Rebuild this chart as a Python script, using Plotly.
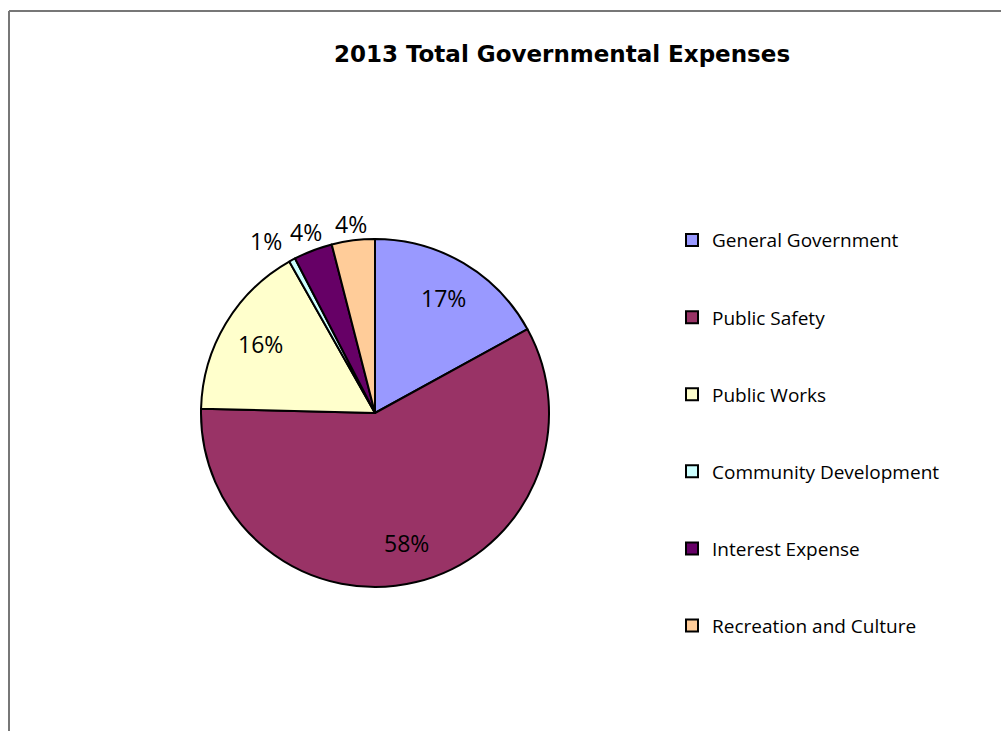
import math
import plotly.graph_objects as go

categories = ["General Government", "Public Safety", "Public Works",
              "Community Development", "Interest Expense", "Recreation and Culture"]
values = [17.0, 58.4, 16.4, 0.6, 3.6, 4.0]
colors = ["#9999FF", "#993366", "#FFFFCC", "#CCFFFF", "#660066", "#FFCC99"]
title_text = "2013 Total Governmental Expenses"

FONT = "'Open Sans', Lato, sans-serif"
TITLE_FONT = "'DejaVu Sans', 'Open Sans', sans-serif"
W, H = 1001, 731

# pie geometry (pixels)
CX, CY, R = 375, 413, 174
LABEL_SIZE = 23

legend_labels = ["<br>" + c + "<br> " for c in categories]

fig = go.Figure(go.Pie(
    labels=legend_labels,
    values=values,
    sort=False,
    direction="clockwise",
    rotation=0,
    marker=dict(colors=colors, line=dict(color="black", width=2)),
    textinfo="none",
    domain=dict(x=[(CX - R) / W, (CX + R) / W],
                y=[1 - (CY + R) / H, 1 - (CY - R) / H]),
    hoverinfo="percent",
))

# percentage labels computed from the values
total = sum(values)
labels = []
cum = 0.0
for v in values:
    frac = v / total
    theta = 2 * math.pi * (cum + frac / 2)
    cum += frac
    txt = f"{round(frac * 100)}%"
    w = 0.7 * LABEL_SIZE * len(txt)
    s, c = math.sin(theta), math.cos(theta)
    if frac >= 0.05:
        d = 0.77 * R
        outside = False
    else:
        d = R + 7 + (w / 2) * abs(s) + 8 * abs(c)
        outside = True
    labels.append(dict(txt=txt, x=CX + d * s, y=CY - d * c, w=w, outside=outside))

# simple overlap avoidance for outside labels (shift leftwards)
for i in range(len(labels) - 2, -1, -1):
    a, b = labels[i], labels[i + 1]
    if a["outside"] and b["outside"] and abs(a["y"] - b["y"]) < 24:
        limit = b["x"] - b["w"] / 2 - 8 - a["w"] / 2
        if a["x"] > limit:
            a["x"] = limit

annotations = [
    dict(text=l["txt"], x=l["x"] / W, y=1 - l["y"] / H, xref="paper", yref="paper",
         showarrow=False, xanchor="center", yanchor="middle",
         font=dict(family=FONT, size=LABEL_SIZE, color="black"))
    for l in labels
]

fig.update_layout(
    width=W, height=H,
    margin=dict(l=0, r=0, t=0, b=0),
    paper_bgcolor="white",
    plot_bgcolor="white",
    font=dict(family=FONT, color="black"),
    title=dict(text="<b>" + title_text + "</b>", x=562 / W, xanchor="center",
               y=1 - 54 / H, yanchor="middle",
               font=dict(family=TITLE_FONT, size=23, color="black")),
    legend=dict(x=672 / W, xanchor="left", y=1 - 433 / H, yanchor="middle",
                font=dict(family=FONT, size=19, color="black"),
                itemclick=False, tracegroupgap=0),
    showlegend=True,
    annotations=annotations,
    shapes=[
        dict(type="line", xref="paper", yref="paper",
             x0=9 / W, x1=1, y0=1 - 11 / H, y1=1 - 11 / H,
             line=dict(color="#777777", width=2)),
        dict(type="line", xref="paper", yref="paper",
             x0=9 / W, x1=9 / W, y0=0, y1=1 - 11 / H,
             line=dict(color="#777777", width=2)),
    ],
)

fig.write_html("out.html")
